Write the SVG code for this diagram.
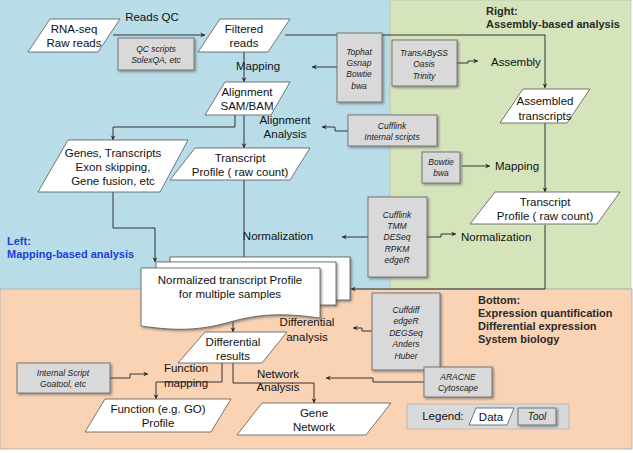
<svg xmlns="http://www.w3.org/2000/svg" width="633" height="453" viewBox="0 0 633 453">
<style>
text{font-family:"Liberation Sans",Arial,sans-serif;font-size:11.5px;fill:#111;text-anchor:middle}
.t{font-size:8.5px;font-style:italic;fill:#222}
.l{text-anchor:start}
.b{font-weight:bold;font-size:11px;text-anchor:start;fill:#2a2a2a}
.d{fill:#fff;stroke:#555;stroke-width:0.8}
.tool{fill:#d9d9d9;stroke:#777;stroke-width:1}
.c path{fill:none;stroke:#333;stroke-width:1}
</style>
<defs>
<marker id="a" viewBox="0 0 10 10" refX="9" refY="5" markerWidth="6" markerHeight="6" orient="auto"><path d="M1,1 L9,5 L1,9 L4,5 Z" fill="#222"/></marker>
<filter id="s" x="-10%" y="-10%" width="130%" height="130%"><feDropShadow dx="1.5" dy="1.5" stdDeviation="0.8" flood-color="#555" flood-opacity="0.6"/></filter>
</defs>
<rect x="0" y="0" width="390" height="289" fill="#b8dde8"/>
<rect x="390" y="0" width="241" height="289" fill="#d6e4bc" stroke="#aaa" stroke-width="0.5"/>
<rect x="0" y="289" width="632" height="160" fill="#f9d3b4" stroke="#aaa" stroke-width="0.8"/>

<text class="b" x="486" y="15">Right:</text>
<text class="b" x="486" y="28">Assembly-based analysis</text>
<text class="b" x="7" y="245" style="fill:#1c3fdc">Left:</text>
<text class="b" x="7" y="258" style="fill:#1c3fdc">Mapping-based analysis</text>
<text class="b" x="478" y="304">Bottom:</text>
<text class="b" x="478" y="317">Expression quantification</text>
<text class="b" x="478" y="330">Differential expression</text>
<text class="b" x="478" y="343">System biology</text>

<text x="152" y="21">Reads QC</text>
<text x="258" y="70">Mapping</text>
<text x="285" y="124">Alignment</text>
<text x="285" y="138">Analysis</text>
<text x="278" y="240">Normalization</text>
<text class="l" x="491" y="66">Assembly</text>
<text class="l" x="495" y="170">Mapping</text>
<text class="l" x="461" y="241">Normalization</text>
<text x="307" y="326">Differential</text>
<text x="307" y="341">analysis</text>
<text x="186" y="372">Function</text>
<text x="186" y="387">mapping</text>
<text x="278" y="378">Network</text>
<text x="278" y="391">Analysis</text>

<g class="c">
<path d="M113,35 H205" marker-end="url(#a)"/>
<path d="M285,35 H545 V88" marker-end="url(#a)"/>
<path d="M244,52 V82" marker-end="url(#a)"/>
<path d="M337,67 H312" marker-end="url(#a)"/>
<path d="M457,63 H468 V61 H478" marker-end="url(#a)"/>
<path d="M235,115 V127 H113 V140" marker-end="url(#a)"/>
<path d="M244,115 V148" marker-end="url(#a)"/>
<path d="M348,131 H335 V127 H322" marker-end="url(#a)"/>
<path d="M545,123 V192" marker-end="url(#a)"/>
<path d="M462,166 H490" marker-end="url(#a)"/>
<path d="M113,192 V228 H155 V262" marker-end="url(#a)"/>
<path d="M244,180 V262" marker-end="url(#a)"/>
<path d="M368,237 H342" marker-end="url(#a)"/>
<path d="M427,237 H441 V234 H456" marker-end="url(#a)"/>
<path d="M545,225 V289 H351" marker-end="url(#a)"/>
<path d="M233,322 V332" marker-end="url(#a)"/>
<path d="M372,331 H362 V328 H353" marker-end="url(#a)"/>
<path d="M110,378 H130 V374 H148" marker-end="url(#a)"/>
<path d="M222,363 V382 H156 V399" marker-end="url(#a)"/>
<path d="M233,363 V383 H314 V403" marker-end="url(#a)"/>
<path d="M424,382 H373 V378 H326" marker-end="url(#a)"/>
</g>

<g id="rnaseq"><polygon class="d" points="50,19 120,19 98,52 28,52"/><text x="74" y="33">RNA-seq</text><text x="74" y="47">Raw reads</text></g>
<g id="qc"><rect class="tool" x="118" y="38" width="76" height="32" filter="url(#s)"/><text class="t" x="156" y="52">QC scripts</text><text class="t" x="156" y="63">SolexQA, etc</text></g>
<g id="filtered"><polygon class="d" points="220,19 290,19 268,52 198,52"/><text x="244" y="33">Filtered</text><text x="244" y="47">reads</text></g>
<g id="tophat"><rect class="tool" x="337" y="33" width="45" height="69" filter="url(#s)"/><text class="t" x="359" y="55">Tophat</text><text class="t" x="359" y="66">Gsnap</text><text class="t" x="359" y="77">Bowtie</text><text class="t" x="359" y="89">bwa</text></g>
<g id="transabyss"><rect class="tool" x="392" y="40" width="65" height="46" filter="url(#s)"/><text class="t" x="424" y="56">TransABySS</text><text class="t" x="424" y="67">Oasis</text><text class="t" x="424" y="79">Trinity</text></g>
<g id="alignment"><polygon class="d" points="225,82 290,82 271,115 205,115"/><text x="247" y="96">Alignment</text><text x="247" y="110">SAM/BAM</text></g>
<g id="cufflink1"><rect class="tool" x="348" y="115" width="89" height="31" filter="url(#s)"/><text class="t" x="392" y="129">Cufflink</text><text class="t" x="392" y="140">Internal scripts</text></g>
<g id="genes"><polygon class="d" points="68,140 188,140 160,192 38,192"/><text x="113" y="157">Genes, Transcripts</text><text x="113" y="171">Exon skipping,</text><text x="113" y="185">Gene fusion, etc</text></g>
<g id="transcript1"><polygon class="d" points="195,148 310,148 290,180 170,180"/><text x="240" y="162">Transcript</text><text x="240" y="176">Profile ( raw count)</text></g>
<g id="assembled"><polygon class="d" points="523,89 590,89 567,123 500,123"/><text x="545" y="105">Assembled</text><text x="545" y="120">transcripts</text></g>
<g id="bowtie"><rect class="tool" x="422" y="152" width="38" height="31" filter="url(#s)"/><text class="t" x="441" y="165">Bowtie</text><text class="t" x="441" y="176">bwa</text></g>
<g id="transcript2"><polygon class="d" points="495,192 620,192 597,224 470,224"/><text x="545" y="206">Transcript</text><text x="545" y="220">Profile ( raw count)</text></g>
<g id="cufflink2"><rect class="tool" x="368" y="197" width="59" height="80" filter="url(#s)"/><text class="t" x="397" y="218">Cufflink</text><text class="t" x="397" y="229">TMM</text><text class="t" x="397" y="240">DESeq</text><text class="t" x="397" y="252">RPKM</text><text class="t" x="397" y="263">edgeR</text></g>
<g id="normalized">
<rect class="d" x="170" y="257" width="180" height="43" filter="url(#s)"/>
<rect class="d" x="156" y="262" width="180" height="43" filter="url(#s)"/>
<path class="d" d="M141,268 H320 V318 C290,314 265,312 230,322 C195,332 170,330 141,326 Z" filter="url(#s)"/>
<text x="230" y="284">Normalized transcript Profile</text><text x="230" y="298">for multiple samples</text></g>
<g id="cuffdiff"><rect class="tool" x="372" y="293" width="68" height="77" filter="url(#s)"/><text class="t" x="406" y="313">Cuffdiff</text><text class="t" x="406" y="324">edgeR</text><text class="t" x="406" y="336">DEGSeq</text><text class="t" x="406" y="347">Anders</text><text class="t" x="406" y="359">Huber</text></g>
<g id="diffresults"><polygon class="d" points="205,332 287,332 262,363 178,363"/><text x="233" y="346">Differential</text><text x="233" y="360">results</text></g>
<g id="internalscript"><rect class="tool" x="17" y="363" width="93" height="30" filter="url(#s)"/><text class="t" x="63" y="376">Internal Script</text><text class="t" x="63" y="387">Goatool, etc</text></g>
<g id="aracne"><rect class="tool" x="424" y="367" width="68" height="30" filter="url(#s)"/><text class="t" x="458" y="380">ARACNE</text><text class="t" x="458" y="391">Cytoscape</text></g>
<g id="function"><polygon class="d" points="105,399 231,399 211,432 85,432"/><text x="158" y="413">Function (e.g. GO)</text><text x="158" y="427">Profile</text></g>
<g id="genenetwork"><polygon class="d" points="262,403 391,403 366,435 237,435"/><text x="314" y="417">Gene</text><text x="314" y="431">Network</text></g>
<g id="legend"><rect x="407" y="404" width="162" height="25" fill="#d9d9d9" stroke="#bbb"/><text x="443" y="420">Legend:</text><polygon class="d" points="476,408 514,408 507,425 469,425"/><text x="491" y="421">Data</text><rect class="tool" x="518" y="408" width="38" height="17" filter="url(#s)"/><text class="t" x="537" y="420" style="font-size:10px">Tool</text></g>
</svg>
